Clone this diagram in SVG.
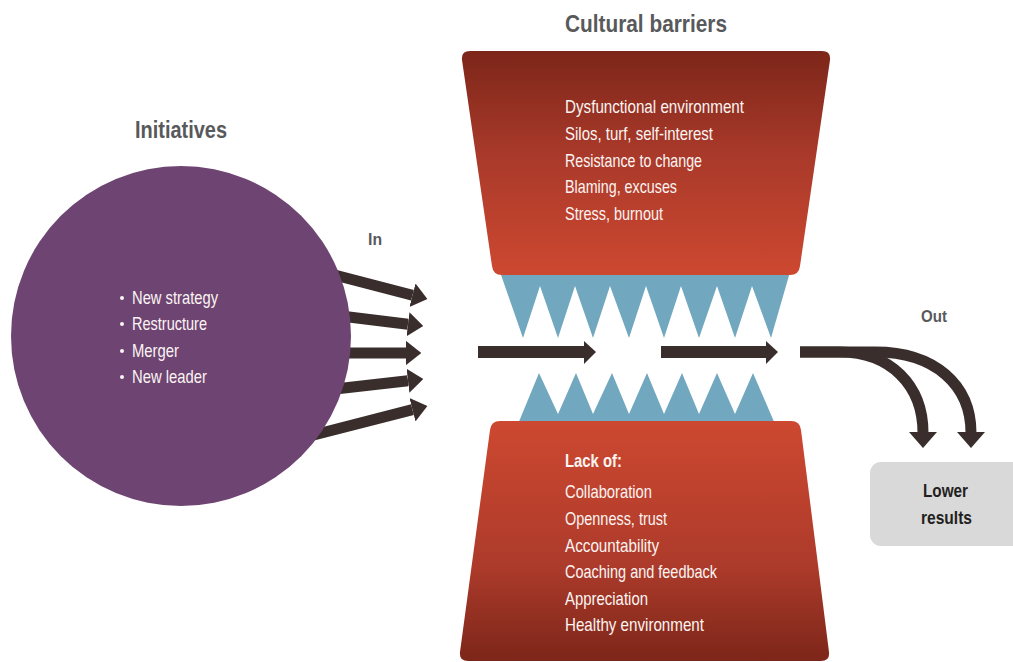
<svg xmlns="http://www.w3.org/2000/svg" width="1013" height="662" viewBox="0 0 1013 662">
  <defs>
    <linearGradient id="gradTop" x1="0" y1="0" x2="0" y2="1">
      <stop offset="0" stop-color="#7c2619"/>
      <stop offset="0.45" stop-color="#a8392a"/>
      <stop offset="1" stop-color="#cd4830"/>
    </linearGradient>
    <linearGradient id="gradBottom" x1="0" y1="0" x2="0" y2="1">
      <stop offset="0" stop-color="#cd4830"/>
      <stop offset="0.6" stop-color="#ad3b2b"/>
      <stop offset="1" stop-color="#7c2619"/>
    </linearGradient>
    <marker id="head" viewBox="0 0 10 10" refX="0" refY="5" markerWidth="1.4" markerHeight="2.2" orient="auto" markerUnits="strokeWidth" preserveAspectRatio="none">
      <path d="M0,0 L10,5 L0,10 Z" fill="#3a2e2d"/>
    </marker>
  </defs>
  <style>
    text { font-family: "Liberation Sans", Arial, sans-serif; }
    .title { font-weight: bold; fill: #58595b; }
    .body { font-size: 19px; fill: #fbf4f2; }
    .bold { font-weight: bold; }
    .shaft { fill: none; stroke: #3a2e2d; stroke-width: 11; }
    .solid { fill: #3a2e2d; }
    .teeth { fill: #72a8bf; }
  </style>

  <!-- connectors: drawn first so the circle overlaps their tails -->
  <g id="connectors">
    <!-- five inputs fanning out of the initiatives circle -->
    <line class="shaft" x1="300" y1="266" x2="412.5" y2="295.2" marker-end="url(#head)"/>
    <line class="shaft" x1="300" y1="311" x2="408" y2="324.2" marker-end="url(#head)"/>
    <line class="shaft" x1="300" y1="353" x2="406" y2="353" marker-end="url(#head)"/>
    <line class="shaft" x1="300" y1="393" x2="408" y2="380.7" marker-end="url(#head)"/>
    <line class="shaft" x1="300" y1="438.5" x2="412.5" y2="409.7" marker-end="url(#head)"/>
    <!-- flow through the gap -->
    <rect class="solid" x="478" y="346" width="107" height="12"/>
    <polygon class="solid" points="584,341 596,352 584,364"/>
    <rect class="solid" x="661" y="346" width="106" height="12"/>
    <polygon class="solid" points="766,341 778,352 766,364"/>
    <!-- output splitting down toward the result -->
    <path class="shaft" d="M800,352 H875 C935,352 971,385 971,433"/>
    <polygon class="solid" points="957,432 985,432 971,448"/>
    <path class="shaft" d="M800,352 H840 C890,352 923,385 923,433"/>
    <polygon class="solid" points="909,432 937,432 923,448"/>
  </g>

  <!-- initiatives -->
  <g id="initiatives">
    <circle cx="181" cy="336" r="170" fill="#6e4472"/>
    <text class="title" x="135" y="138" font-size="23" textLength="92" lengthAdjust="spacingAndGlyphs">Initiatives</text>
    <g class="body">
      <circle cx="122" cy="298" r="2" fill="#fbf4f2"/>
      <circle cx="122" cy="324" r="2" fill="#fbf4f2"/>
      <circle cx="122" cy="351" r="2" fill="#fbf4f2"/>
      <circle cx="122" cy="377" r="2" fill="#fbf4f2"/>
      <text x="132" y="304" textLength="86" lengthAdjust="spacingAndGlyphs">New strategy</text>
      <text x="132" y="330" textLength="75" lengthAdjust="spacingAndGlyphs">Restructure</text>
      <text x="132" y="357" textLength="47" lengthAdjust="spacingAndGlyphs">Merger</text>
      <text x="132" y="383" textLength="75" lengthAdjust="spacingAndGlyphs">New leader</text>
    </g>
  </g>

  <text id="label-in" class="title" x="368" y="245" font-size="17" textLength="14" lengthAdjust="spacingAndGlyphs">In</text>
  <text id="label-out" class="title" x="921" y="322" font-size="17" textLength="26" lengthAdjust="spacingAndGlyphs">Out</text>

  <!-- cultural barriers: upper jaw -->
  <g id="barriers-top">
    <text class="title" x="565" y="32" font-size="24" textLength="162" lengthAdjust="spacingAndGlyphs">Cultural barriers</text>
    <path class="teeth" d="M500,272 L790,272 L771,338 L752,286 L735,338 L717,286 L699,338 L681,286 L664,338 L646,286 L629,338 L610,286 L593,338 L575,286 L558,338 L540,286 L523,338 Z"/>
    <path d="M470,51 H822 Q831,51 830,60 L800,266 Q799,275 790,275 H502 Q493,275 492,266 L462,60 Q461,51 470,51 Z" fill="url(#gradTop)"/>
    <g class="body">
      <text x="565" y="113" textLength="179" lengthAdjust="spacingAndGlyphs">Dysfunctional environment</text>
      <text x="565" y="140" textLength="148" lengthAdjust="spacingAndGlyphs">Silos, turf, self-interest</text>
      <text x="565" y="166.5" textLength="137" lengthAdjust="spacingAndGlyphs">Resistance to change</text>
      <text x="565" y="193" textLength="112" lengthAdjust="spacingAndGlyphs">Blaming, excuses</text>
      <text x="565" y="219.5" textLength="98" lengthAdjust="spacingAndGlyphs">Stress, burnout</text>
    </g>
  </g>

  <!-- cultural barriers: lower jaw -->
  <g id="barriers-bottom">
    <path class="teeth" d="M518,424 L539,373 L558,414 L576,373 L593,414 L612,373 L629,414 L647,373 L664,414 L682,373 L699,414 L717,373 L735,414 L753,373 L775,424 Z"/>
    <path d="M500,421 H791 Q800,421 801,430 L829,652 Q830,661 821,661 H468 Q459,661 460,652 L490,430 Q491,421 500,421 Z" fill="url(#gradBottom)"/>
    <g class="body">
      <text class="bold" x="565" y="467" textLength="57" lengthAdjust="spacingAndGlyphs">Lack of:</text>
      <text x="565" y="498" textLength="87" lengthAdjust="spacingAndGlyphs">Collaboration</text>
      <text x="565" y="525" textLength="102" lengthAdjust="spacingAndGlyphs">Openness, trust</text>
      <text x="565" y="551.5" textLength="94" lengthAdjust="spacingAndGlyphs">Accountability</text>
      <text x="565" y="578" textLength="152" lengthAdjust="spacingAndGlyphs">Coaching and feedback</text>
      <text x="565" y="605" textLength="83" lengthAdjust="spacingAndGlyphs">Appreciation</text>
      <text x="565" y="631" textLength="139" lengthAdjust="spacingAndGlyphs">Healthy environment</text>
    </g>
  </g>

  <!-- outcome -->
  <g id="lower-results">
    <rect x="870" y="462" width="160" height="84" rx="11" fill="#d9d9d9"/>
    <text class="title" x="923" y="497" font-size="19" textLength="45" lengthAdjust="spacingAndGlyphs" style="fill:#231f20">Lower</text>
    <text class="title" x="921" y="524" font-size="19" textLength="51" lengthAdjust="spacingAndGlyphs" style="fill:#231f20">results</text>
  </g>
</svg>
